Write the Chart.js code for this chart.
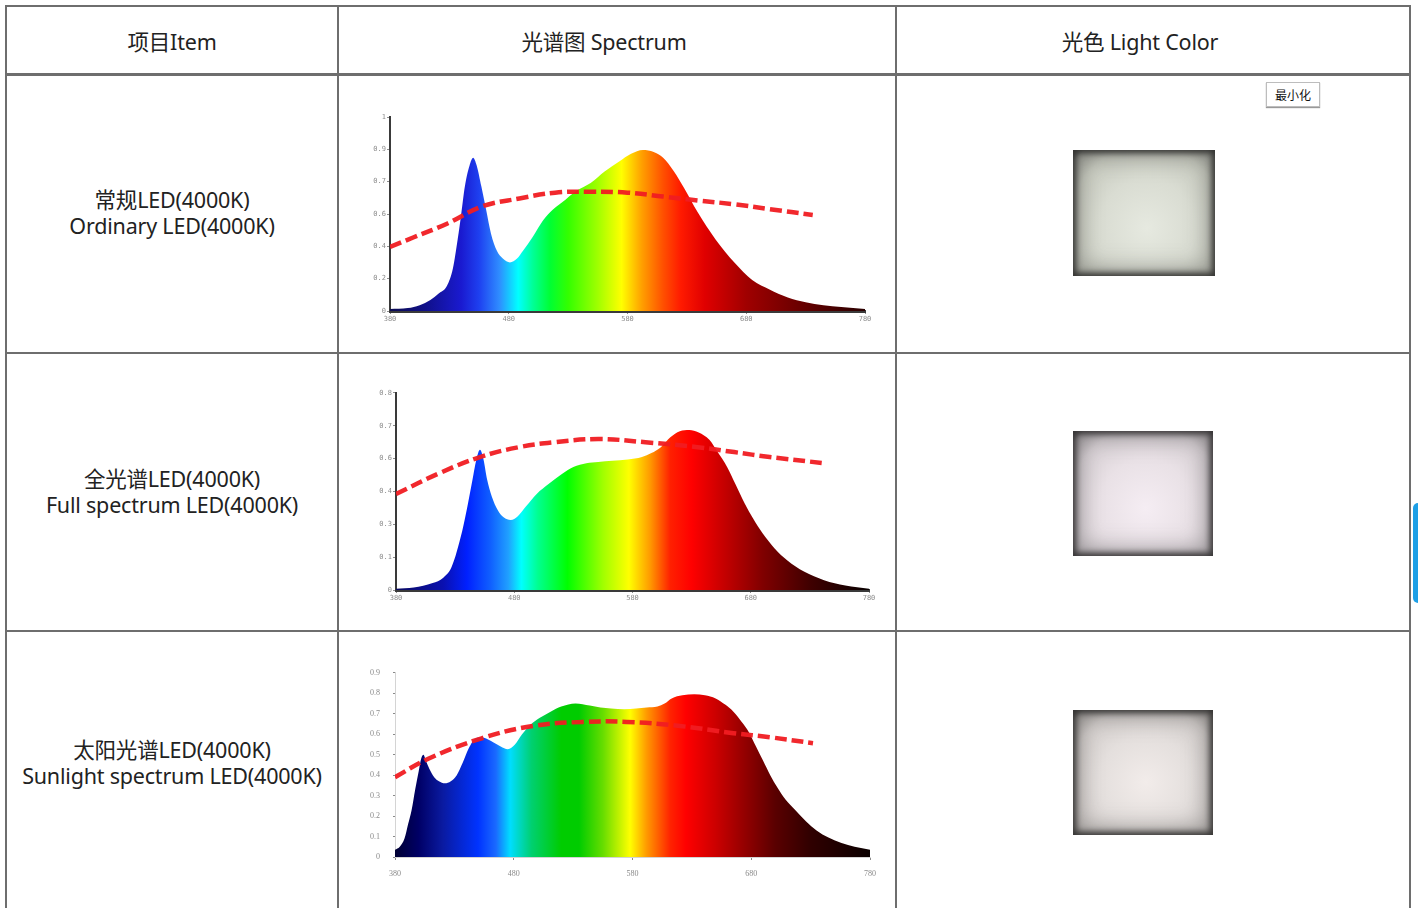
<!DOCTYPE html>
<html lang="zh">
<head>
<meta charset="utf-8">
<title>光谱图 Spectrum</title>
<script src="https://cdn.jsdelivr.net/npm/chart.js@4.4.1/dist/chart.umd.min.js"></script>
<style>
  body { margin:0; width:1418px; height:908px; overflow:hidden; background:#fff; position:relative;
         font-family:"Noto Sans","Noto Sans CJK SC",sans-serif; color:#222; }
  .h { position:absolute; left:6px; width:1405px; height:2px; background:#6e6e6e; }
  .v { position:absolute; top:5px; width:2px; height:905px; background:#6e6e6e; }
  .txt { position:absolute; text-align:center; font-size:21.5px; line-height:26px; white-space:nowrap; letter-spacing:-0.2px; }
  .lamp { position:absolute; }
  canvas { position:absolute; }
  .btn { position:absolute; left:1266px; top:82px; width:52px; height:23px; border:1px solid #bdbdbd;
         box-shadow:0 1px 1px #999; font-size:12px; line-height:23px; text-align:center; background:#fff;
         font-family:"Noto Sans CJK SC",sans-serif; color:#111; }
  .tab { position:absolute; left:1413px; top:503px; width:10px; height:100px; border-radius:5px; background:#1d9fe6; }
</style>
</head>
<body>
<!-- Tabla -->
<div class="h" style="top:5px"></div>
<div class="h" style="top:73px;height:3px"></div>
<div class="h" style="top:352px"></div>
<div class="h" style="top:630px"></div>
<div class="v" style="left:5px"></div>
<div class="v" style="left:337px"></div>
<div class="v" style="left:895px"></div>
<div class="v" style="left:1409px"></div>

<div class="txt" style="left:12px;width:320px;top:29px">项目Item</div>
<div class="txt" style="left:304px;width:600px;top:29px">光谱图 Spectrum</div>
<div class="txt" style="left:840px;width:600px;top:29px">光色 Light Color</div>

<div class="txt" style="left:6px;width:332px;top:187px">常规LED(4000K)<br>Ordinary LED(4000K)</div>
<div class="txt" style="left:6px;width:332px;top:466px">全光谱LED(4000K)<br>Full spectrum LED(4000K)</div>
<div class="txt" style="left:6px;width:332px;top:737px">太阳光谱LED(4000K)<br>Sunlight spectrum LED(4000K)</div>

<canvas id="c1" width="550" height="235" style="left:340px;top:100px"></canvas>
<canvas id="c2" width="550" height="230" style="left:340px;top:380px"></canvas>
<canvas id="c3" width="550" height="245" style="left:340px;top:655px"></canvas>

<div class="lamp" style="left:1073px;top:150px;width:142px;height:126px;
  background:radial-gradient(ellipse at 52% 62%, #e6e9e0 0%, #d9dcd2 45%, #c8cbc0 75%, #a9aba3 92%, #5c5d59 100%);
  box-shadow:inset 0 0 6px 3px #333331, inset 0 0 22px 6px rgba(80,80,75,0.5)"></div>
<div class="lamp" style="left:1073px;top:431px;width:140px;height:125px;
  background:radial-gradient(ellipse at 52% 62%, #f5edf3 0%, #e9e1e6 45%, #d8d1d5 75%, #b7b1b4 92%, #5e5b5d 100%);
  box-shadow:inset 0 0 6px 3px #363435, inset 0 0 22px 6px rgba(80,78,80,0.5)"></div>
<div class="lamp" style="left:1073px;top:710px;width:140px;height:125px;
  background:radial-gradient(ellipse at 52% 58%, #f2ecea 0%, #e4dfdd 45%, #d4cfcd 75%, #b3afad 92%, #5c5a59 100%);
  box-shadow:inset 0 0 6px 3px #353433, inset 0 0 22px 6px rgba(80,78,76,0.5)"></div>

<div class="btn">最小化</div>
<div class="tab"></div>

<script>
const xTicks = [380, 480, 580, 680, 780];

// Gráfico 1 - LED convencional
const yLabels1 = ['0', '0.2', '0.4', '0.6', '0.7', '0.9', '1'];
const wl1 = [380, 395, 405, 414, 421, 428, 433, 437, 440, 443, 447, 450, 453, 457, 461, 465, 470, 475, 481, 487, 492, 500, 507, 515, 525, 537, 549, 561, 573, 583, 593, 602, 610, 619, 628, 639, 654, 670, 685, 700, 715, 730, 745, 760, 780];
const spd1 = [0.01, 0.015, 0.03, 0.057, 0.09, 0.13, 0.22, 0.37, 0.5, 0.64, 0.75, 0.79, 0.75, 0.64, 0.52, 0.4, 0.31, 0.27, 0.25, 0.27, 0.31, 0.38, 0.45, 0.51, 0.56, 0.62, 0.66, 0.72, 0.77, 0.81, 0.83, 0.82, 0.79, 0.72, 0.63, 0.51, 0.37, 0.25, 0.16, 0.11, 0.07, 0.045, 0.03, 0.02, 0.01];
const eyeWl1 = [380, 400, 428, 458, 489, 519, 549, 580, 610, 639, 670, 700, 736];
const eye1 = [0.33, 0.38, 0.45, 0.54, 0.58, 0.61, 0.615, 0.61, 0.59, 0.57, 0.55, 0.525, 0.495];

// Gráfico 2 - LED de espectro completo
const yLabels2 = ['0', '0.1', '0.3', '0.4', '0.6', '0.7', '0.8'];
const wl2 = [380, 395, 411, 420, 427, 436, 440, 444, 448, 451, 454, 457, 461, 466, 471, 477, 483, 490, 499, 509, 520, 530, 541, 551, 563, 576, 588, 596, 604, 612, 620, 628, 636, 645, 652, 660, 667, 675, 682, 690, 700, 711, 725, 742, 760, 780];
const spd2 = [0.005, 0.01, 0.028, 0.05, 0.093, 0.24, 0.33, 0.43, 0.53, 0.57, 0.53, 0.45, 0.38, 0.325, 0.295, 0.284, 0.3, 0.34, 0.39, 0.43, 0.47, 0.5, 0.515, 0.52, 0.525, 0.53, 0.54, 0.556, 0.58, 0.62, 0.645, 0.65, 0.64, 0.61, 0.56, 0.5, 0.43, 0.35, 0.29, 0.23, 0.17, 0.12, 0.075, 0.04, 0.018, 0.005];
const eyeWl2 = [380, 417, 451, 484, 514, 551, 591, 635, 666, 696, 740];
const eye2 = [0.39, 0.475, 0.54, 0.58, 0.6, 0.613, 0.6, 0.58, 0.56, 0.54, 0.516];

// Gráfico 3 - LED de espectro solar
const yLabels3 = ['0', '0.1', '0.2', '0.3', '0.4', '0.5', '0.6', '0.7', '0.8', '0.9'];
const wl3 = [380, 384, 388, 391, 394, 397, 400, 402, 404, 406, 409, 413, 417, 422, 427, 432, 437, 442, 448, 453, 458, 463, 469, 475, 481, 487, 494, 502, 511, 520, 532, 544, 553, 562, 573, 583, 592, 601, 607, 613, 622, 632, 641, 650, 658, 665, 672, 678, 684, 690, 696, 702, 709, 717, 726, 735, 745, 756, 767, 780];
const spd3 = [0.035, 0.05, 0.09, 0.16, 0.23, 0.33, 0.42, 0.48, 0.5, 0.47, 0.43, 0.39, 0.37, 0.36, 0.37, 0.4, 0.46, 0.53, 0.58, 0.585, 0.575, 0.56, 0.54, 0.527, 0.55, 0.6, 0.645, 0.68, 0.71, 0.735, 0.75, 0.74, 0.73, 0.725, 0.722, 0.725, 0.73, 0.735, 0.75, 0.775, 0.79, 0.795, 0.79, 0.775, 0.745, 0.71, 0.66, 0.61, 0.54, 0.47, 0.4, 0.34, 0.28, 0.23, 0.175, 0.13, 0.095, 0.068, 0.05, 0.035];
const eyeWl3 = [380, 408, 453, 496, 538, 575, 620, 665, 696, 732];
const eye3 = [0.39, 0.48, 0.58, 0.64, 0.66, 0.66, 0.64, 0.605, 0.585, 0.556];

// Colores del espectro (nm, color)
const rainbow1 = [[380, '#0c0c50'], [410, '#10108a'], [440, '#1a1ad0'], [455, '#1e40f0'], [472, '#2f8cff'], [488, '#00ffff'], [500, '#00ff99'], [515, '#00ff33'], [530, '#33ff00'], [555, '#a0ff00'], [575, '#ffff00'], [592, '#ffa000'], [610, '#ff5000'], [625, '#ff1a00'], [645, '#e00000'], [680, '#a00000'], [720, '#700000'], [760, '#400000'], [780, '#2a0000']];
const rainbow2 = [[380, '#0a0a60'], [420, '#0a10b0'], [440, '#0020ff'], [460, '#1060ff'], [475, '#20a0ff'], [486, '#00ffff'], [500, '#00ff90'], [525, '#00ff00'], [555, '#a0ff00'], [577, '#ffff00'], [595, '#ff9900'], [612, '#ff2000'], [630, '#ff0000'], [660, '#c00000'], [690, '#800000'], [730, '#400000'], [780, '#080000']];
const rainbow3 = [[380, '#000033'], [400, '#000066'], [420, '#0a1aa0'], [450, '#0033ff'], [465, '#1a6aff'], [477, '#00ddff'], [495, '#00d070'], [520, '#00cc00'], [535, '#00cc00'], [555, '#66dd00'], [578, '#ffff00'], [592, '#ff9900'], [612, '#ff2200'], [625, '#ff0000'], [650, '#cc0000'], [672, '#990000'], [700, '#5a0000'], [730, '#300000'], [780, '#0a0000']];

const pairs = (xs, ys) => xs.map((x, i) => ({ x: x, y: ys[i] }));

const renderChart = (id, o) => {
    const ctx = document.getElementById(id).getContext('2d');

    // Degradado horizontal según la longitud de onda
    const fillColor = (c) => {
        const chart = c.chart;
        if (!chart.chartArea) return '#2040ff';
        const x0 = chart.scales.x.getPixelForValue(380);
        const x1 = chart.scales.x.getPixelForValue(780);
        const g = chart.ctx.createLinearGradient(x0, 0, x1, 0);
        o.colors.forEach(([nm, col]) => g.addColorStop((nm - 380) / 400, col));
        return g;
    };

    new Chart(ctx, {
        type: 'line',
        data: {
            datasets: [{
                data: pairs(o.eyeWl, o.eye),
                borderColor: 'rgba(240, 28, 34, 0.95)',
                borderWidth: 4.5,
                borderDash: [12, 5],
                pointRadius: 0,
                tension: 0.4,
                fill: false,
                order: 0,
            }, {
                data: pairs(o.wl, o.spd),
                backgroundColor: fillColor,
                borderWidth: 0,
                pointRadius: 0,
                cubicInterpolationMode: 'monotone',
                fill: 'origin',
                order: 1,
            }],
        },
        options: {
            responsive: false,
            animation: false,
            layout: { padding: o.padding },
            plugins: { legend: { display: false }, tooltip: { enabled: false } },
            scales: {
                x: {
                    type: 'linear',
                    min: 380,
                    max: 780,
                    afterBuildTicks: (s) => { s.ticks = xTicks.map(v => ({ value: v })); },
                    afterFit: (s) => { s.height = o.xHeight; },
                    ticks: { font: o.font, color: o.tickColor, padding: o.xPad, maxRotation: 0,
                             callback: (v) => String(v) },
                    grid: { drawOnChartArea: false, drawTicks: true, tickLength: 3, color: o.tickColor },
                    border: { display: true, color: o.axisColor, width: o.xAxisWidth },
                },
                y: {
                    min: 0,
                    max: o.yMax,
                    afterBuildTicks: (s) => {
                        s.ticks = o.yLabels.map((_, i) => ({ value: o.yMax * i / (o.yLabels.length - 1) }));
                    },
                    afterFit: (s) => { s.width = o.yWidth; },
                    ticks: { font: o.font, color: o.tickColor, padding: o.yPad,
                             callback: (v, i) => o.yLabels[i] },
                    grid: { drawOnChartArea: false, drawTicks: true, tickLength: o.tickLen, color: o.tickColor },
                    border: { display: true, color: o.axisColor, width: o.yAxisWidth },
                },
            },
        },
    });
};

const mono = { family: 'DejaVu Sans Mono', size: 7 };

renderChart('c1', {
    wl: wl1, spd: spd1, eyeWl: eyeWl1, eye: eye1, yLabels: yLabels1, yMax: 1, colors: rainbow1,
    padding: { left: 0, right: 25, top: 17, bottom: 0 }, yWidth: 50, xHeight: 24,
    font: mono, tickColor: '#8c8c8c', axisColor: '#3a3a3a', xAxisWidth: 3, yAxisWidth: 2,
    xPad: 1, yPad: 1, tickLen: 3,
});

renderChart('c2', {
    wl: wl2, spd: spd2, eyeWl: eyeWl2, eye: eye2, yLabels: yLabels2, yMax: 0.8, colors: rainbow2,
    padding: { left: 0, right: 21, top: 13, bottom: 0 }, yWidth: 56, xHeight: 20,
    font: mono, tickColor: '#8c8c8c', axisColor: '#3a3a3a', xAxisWidth: 3, yAxisWidth: 2,
    xPad: 1, yPad: 1, tickLen: 3,
});

renderChart('c3', {
    wl: wl3, spd: spd3, eyeWl: eyeWl3, eye: eye3, yLabels: yLabels3, yMax: 0.9, colors: rainbow3,
    padding: { left: 0, right: 20, top: 16, bottom: 0 }, yWidth: 55, xHeight: 43,
    font: { family: 'Liberation Serif', size: 8 }, tickColor: '#8a8a8a', axisColor: '#d4d4d4', xAxisWidth: 1, yAxisWidth: 1,
    xPad: 9, yPad: 13, tickLen: 2,
});
</script>
</body>
</html>
